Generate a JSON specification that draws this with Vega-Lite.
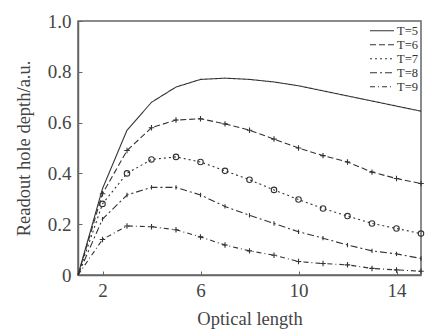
{
  "$schema": "https://vega.github.io/schema/vega-lite/v6.json",
  "width": 343,
  "height": 254,
  "autosize": {"type": "none"},
  "padding": {"left": 78, "top": 21, "right": 4, "bottom": 54},
  "background": "white",
  "config": {
    "font": "Liberation Serif",
    "view": {"stroke": "#666", "strokeWidth": 1.5},
    "axis": {"grid": false, "domainColor": "#666", "domainWidth": 1.5, "tickColor": "#666", "labelColor": "#444", "titleColor": "#444", "labelFont": "Liberation Serif", "titleFont": "Liberation Serif", "labelFontSize": 19, "titleFontSize": 18.5, "titleFontWeight": "normal"}
  },
  "data": {"values": [
    {"x":1,"y":0,"T":"T=5"},{"x":2,"y":0.34,"T":"T=5"},{"x":3,"y":0.57,"T":"T=5"},{"x":4,"y":0.68,"T":"T=5"},{"x":5,"y":0.74,"T":"T=5"},{"x":6,"y":0.77,"T":"T=5"},{"x":7,"y":0.775,"T":"T=5"},{"x":8,"y":0.77,"T":"T=5"},{"x":9,"y":0.76,"T":"T=5"},{"x":10,"y":0.745,"T":"T=5"},{"x":11,"y":0.725,"T":"T=5"},{"x":12,"y":0.705,"T":"T=5"},{"x":13,"y":0.685,"T":"T=5"},{"x":14,"y":0.665,"T":"T=5"},{"x":15,"y":0.645,"T":"T=5"},
    {"x":1,"y":0,"T":"T=6"},{"x":2,"y":0.32,"T":"T=6"},{"x":3,"y":0.49,"T":"T=6"},{"x":4,"y":0.58,"T":"T=6"},{"x":5,"y":0.61,"T":"T=6"},{"x":6,"y":0.615,"T":"T=6"},{"x":7,"y":0.595,"T":"T=6"},{"x":8,"y":0.57,"T":"T=6"},{"x":9,"y":0.535,"T":"T=6"},{"x":10,"y":0.5,"T":"T=6"},{"x":11,"y":0.47,"T":"T=6"},{"x":12,"y":0.445,"T":"T=6"},{"x":13,"y":0.405,"T":"T=6"},{"x":14,"y":0.38,"T":"T=6"},{"x":15,"y":0.36,"T":"T=6"},
    {"x":1,"y":0,"T":"T=7"},{"x":2,"y":0.28,"T":"T=7"},{"x":3,"y":0.4,"T":"T=7"},{"x":4,"y":0.455,"T":"T=7"},{"x":5,"y":0.465,"T":"T=7"},{"x":6,"y":0.445,"T":"T=7"},{"x":7,"y":0.41,"T":"T=7"},{"x":8,"y":0.375,"T":"T=7"},{"x":9,"y":0.335,"T":"T=7"},{"x":10,"y":0.297,"T":"T=7"},{"x":11,"y":0.262,"T":"T=7"},{"x":12,"y":0.232,"T":"T=7"},{"x":13,"y":0.203,"T":"T=7"},{"x":14,"y":0.183,"T":"T=7"},{"x":15,"y":0.163,"T":"T=7"},
    {"x":1,"y":0,"T":"T=8"},{"x":2,"y":0.22,"T":"T=8"},{"x":3,"y":0.315,"T":"T=8"},{"x":4,"y":0.345,"T":"T=8"},{"x":5,"y":0.345,"T":"T=8"},{"x":6,"y":0.315,"T":"T=8"},{"x":7,"y":0.27,"T":"T=8"},{"x":8,"y":0.235,"T":"T=8"},{"x":9,"y":0.203,"T":"T=8"},{"x":10,"y":0.17,"T":"T=8"},{"x":11,"y":0.145,"T":"T=8"},{"x":12,"y":0.118,"T":"T=8"},{"x":13,"y":0.095,"T":"T=8"},{"x":14,"y":0.083,"T":"T=8"},{"x":15,"y":0.065,"T":"T=8"},
    {"x":1,"y":0,"T":"T=9"},{"x":2,"y":0.14,"T":"T=9"},{"x":3,"y":0.193,"T":"T=9"},{"x":4,"y":0.19,"T":"T=9"},{"x":5,"y":0.178,"T":"T=9"},{"x":6,"y":0.15,"T":"T=9"},{"x":7,"y":0.118,"T":"T=9"},{"x":8,"y":0.095,"T":"T=9"},{"x":9,"y":0.078,"T":"T=9"},{"x":10,"y":0.053,"T":"T=9"},{"x":11,"y":0.045,"T":"T=9"},{"x":12,"y":0.04,"T":"T=9"},{"x":13,"y":0.026,"T":"T=9"},{"x":14,"y":0.02,"T":"T=9"},{"x":15,"y":0.015,"T":"T=9"}
  ]},
  "encoding": {
    "x": {"field": "x", "type": "quantitative", "scale": {"domain": [1, 15], "nice": false},
      "axis": {"title": "Optical length", "values": [2, 6, 10, 14], "tickSize": -4, "labelPadding": 10, "titlePadding": 9}},
    "y": {"field": "y", "type": "quantitative", "scale": {"domain": [0, 1], "nice": false},
      "axis": {"title": "Readout hole depth/a.u.", "values": [0, 0.2, 0.4, 0.6, 0.8, 1.0], "tickSize": -4, "labelPadding": 11, "titlePadding": 14,
        "labelExpr": "datum.value == 0 ? '0' : format(datum.value, '.1f')"}}
  },
  "layer": [
    {
      "mark": {"type": "line", "interpolate": "linear", "color": "#333", "strokeWidth": 1.1},
      "encoding": {
        "strokeDash": {"field": "T", "type": "nominal",
          "scale": {"domain": ["T=5","T=6","T=7","T=8","T=9"], "range": [[1,0],[6,3],[2,3],[7,3,2,3],[5,3,1,3]]},
          "legend": {"title": null, "orient": "top-right", "offset": 2, "symbolType": "stroke", "symbolSize": 576, "symbolStrokeWidth": 1.1, "symbolStrokeColor": "#333",
            "labelFont": "Liberation Serif", "labelFontSize": 12.5, "labelColor": "#333", "clipHeight": 13.5, "rowPadding": 0, "symbolOffset": 0, "labelOffset": 2, "padding": 1}}
      }
    },
    {
      "transform": [{"filter": "datum.T != 'T=5' && datum.x > 1"}],
      "mark": {"type": "point", "filled": false, "strokeWidth": 1.1, "color": "#333", "size": 30, "opacity": 1},
      "encoding": {
        "shape": {"field": "T", "type": "nominal",
          "scale": {"domain": ["T=6","T=7","T=8","T=9"], "range": ["M-1,0L1,0M0,-1L0,1", "circle", "M0,-0.8L0,0.8", "M-1,0L1,0M0,-1L0,1"]},
          "legend": null}
      }
    }
  ]
}
